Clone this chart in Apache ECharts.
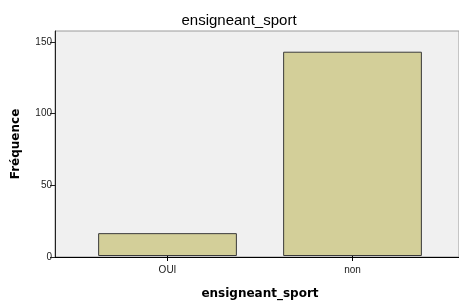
<!DOCTYPE html>
<html>
<head>
<meta charset="utf-8">
<script src="https://cdn.jsdelivr.net/npm/echarts@6/dist/echarts.min.js"></script>
<style>
  html, body { margin: 0; padding: 0; background: #fff; }
  #chart { width: 459px; height: 305px; }
</style>
</head>
<body>
<div id="chart"></div>
<script>
var categories = ['OUI', 'non'];
var frequences = [16, 143];
var yTicks = [0, 50, 100, 150];
var yMax = 157.5;

var chart = echarts.init(document.getElementById('chart'), null, { renderer: 'canvas' });

var labelFont = { fontFamily: 'Liberation Sans', fontSize: 10, color: '#222' };

var option = {
  animation: false,
  backgroundColor: '#fff',
  title: {
    text: 'ensigneant_sport',
    left: 234,
    top: 8,
    textAlign: 'center',
    textStyle: { fontFamily: 'Liberation Sans', fontSize: 15, fontWeight: 'normal', color: '#000' }
  },
  grid: [
    // zone grise du graphique
    { left: 55, right: -1, top: 31, bottom: 48, show: true, backgroundColor: '#f0f0f0', borderColor: '#9a9a9a', borderWidth: 1 },
    // zone des barres
    { left: 75, right: 14, top: 31, bottom: 48 }
  ],
  xAxis: [
    {
      gridIndex: 0, type: 'value', min: 0, max: 1,
      axisLine: { show: true, lineStyle: { color: '#000', width: 1 } },
      axisTick: { show: false }, axisLabel: { show: false }, splitLine: { show: false }
    },
    {
      gridIndex: 1, type: 'category', data: categories,
      axisLine: { show: false },
      axisTick: { show: true, alignWithLabel: true, length: 5, lineStyle: { color: '#000' } },
      axisLabel: Object.assign({ margin: 9 }, labelFont),
      name: 'ensigneant_sport',
      nameLocation: 'middle',
      nameGap: 32,
      nameTextStyle: { fontFamily: 'DejaVu Sans', fontSize: 12, fontWeight: 'bold', color: '#000' }
    }
  ],
  yAxis: [
    {
      gridIndex: 0, type: 'value', min: 0, max: yMax,
      axisLine: { show: true, lineStyle: { color: '#222', width: 1 } },
      axisTick: { show: true, length: 5, customValues: yTicks, lineStyle: { color: '#222' } },
      axisLabel: Object.assign({ margin: 3, customValues: yTicks }, labelFont),
      splitLine: { show: false },
      name: 'Fréquence',
      nameLocation: 'middle',
      nameGap: 33,
      nameTextStyle: { fontFamily: 'DejaVu Sans', fontSize: 12, fontWeight: 'bold', color: '#000' }
    },
    {
      gridIndex: 1, type: 'value', min: 0, max: yMax, show: false
    }
  ],
  series: [{
    type: 'bar',
    xAxisIndex: 1,
    yAxisIndex: 1,
    data: frequences,
    barWidth: '75%',
    itemStyle: { color: '#d3cf99', borderColor: '#3a3a3a', borderWidth: 1 }
  }]
};

chart.setOption(option);
</script>
</body>
</html>
